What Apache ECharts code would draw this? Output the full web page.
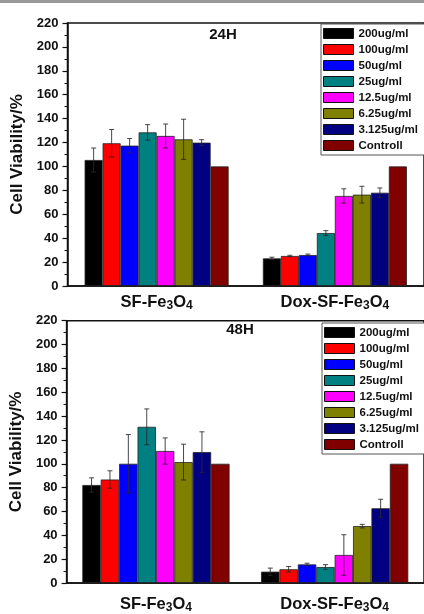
<!DOCTYPE html>
<html><head><meta charset="utf-8">
<script src="https://cdn.jsdelivr.net/npm/echarts@6/dist/echarts.min.js"></script>
<style>html,body{margin:0;padding:0;background:#fff}#c{width:424px;height:614px}</style>
</head><body><div id="c"></div>
<script>
// ---------- data ----------
const categories = ['SF-Fe3O4', 'Dox-SF-Fe3O4'];
const concentrations = ['200ug/ml', '100ug/ml', '50ug/ml', '25ug/ml', '12.5ug/ml', '6.25ug/ml', '3.125ug/ml', 'Controll'];
const panelTitles = ['24H', '48H'];
const yMin = 0, yMax = 220, yStep = 20;

// 24H panel (values per concentration, in legend order)
const h24_sf      = [105.4, 119.4, 117.4, 128.5, 125.5, 122.7, 119.9, 100];
const h24_sf_err  = [10, 11.5, 6, 6.5, 10, 16.8, 2.5, 0];
const h24_dox     = [23.1, 25.1, 25.9, 44.3, 75.3, 76.4, 78, 100];
const h24_dox_err = [1, 0.6, 0.8, 2, 6, 7, 4, 0];

// 48H panel
const h48_sf      = [82.2, 86.8, 100, 131, 110.7, 101.4, 109.8, 100];
const h48_sf_err  = [6, 7.3, 24.5, 15, 11, 15, 17, 0];
const h48_dox     = [9.5, 11.5, 15.6, 13.4, 23.5, 47.7, 62.7, 100];
const h48_dox_err = [3, 2.3, 1, 2, 17, 1.5, 7.5, 0];

// ---------- styling ----------
const colors = ['#000000', '#ff0000', '#0000ff', '#008080', '#ff00ff', '#808000', '#000080', '#800000'];
const FONT = '"Liberation Sans", Arial, sans-serif';
const panels = [
  { sf: h24_sf, sfErr: h24_sf_err, dox: h24_dox, doxErr: h24_dox_err,
    grid: { left: 67.5, top: 23, width: 362, height: 263 }, barW: 18, labelMargin: 6,
    legend: { left: 321, top: 24 }, title: { x: 223, y: 35 } },
  { sf: h48_sf, sfErr: h48_sf_err, dox: h48_dox, doxErr: h48_dox_err,
    grid: { left: 63.4, top: 320.7, width: 367.2, height: 267.6 }, barW: 18.4, labelMargin: 11,
    legend: { left: 322, top: 323 }, title: { x: 240, y: 330 } }
];

function subLabel(v) {
  return '{n|' + v.replace(/(\d)/g, '}{s|$1}{n|') + '}';
}

const grids = [], xAxes = [], yAxes = [], series = [], legends = [], graphics = [];
graphics.push({ type: 'rect', left: 0, top: 0, shape: { width: 424, height: 3 }, style: { fill: '#9a9a9a' }, silent: true });

panels.forEach((p, pi) => {
  grids.push(Object.assign({ show: true, borderColor: '#111', borderWidth: 1.5, backgroundColor: 'transparent' }, p.grid));
  xAxes.push({
    type: 'category', gridIndex: pi, data: categories,
    axisLine: { lineStyle: { color: '#111', width: 1.5 } },
    axisTick: { show: false },
    axisLabel: {
      interval: 0, hideOverlap: false,
      margin: p.labelMargin, formatter: subLabel, color: '#111',
      rich: {
        n: { fontSize: 16.5, fontWeight: 'bold', fontFamily: FONT, color: '#111' },
        s: { fontSize: 12, fontWeight: 'bold', fontFamily: FONT, color: '#111', padding: [8, 0, 0, 0] }
      }
    }
  });
  yAxes.push({
    type: 'value', gridIndex: pi, min: yMin, max: yMax, interval: yStep,
    name: 'Cell Viability/%', nameLocation: 'middle', nameGap: 38,
    nameTextStyle: { fontSize: 17, fontWeight: 'bold', fontFamily: FONT, color: '#111' },
    axisLine: { show: true, lineStyle: { color: '#111', width: 1.5 } },
    axisTick: { show: true, length: 5, lineStyle: { color: '#111', width: 1.2 } },
    minorTick: { show: true, splitNumber: 2, length: 3, lineStyle: { color: '#111', width: 1 } },
    splitLine: { show: false },
    axisLabel: { margin: 9, fontSize: 13, fontWeight: 'bold', fontFamily: FONT, color: '#111' }
  });
  concentrations.forEach((name, i) => {
    series.push({
      type: 'bar', name, xAxisIndex: pi, yAxisIndex: pi,
      data: [p.sf[i], p.dox[i]],
      barWidth: p.barW, barGap: '0%',
      itemStyle: { color: colors[i], borderColor: '#222', borderWidth: 0.8 },
      emphasis: { disabled: true }, animation: false
    });
  });
  concentrations.forEach((name, i) => {
    const off = (i - 3.5) * p.barW;
    series.push({
      type: 'custom', xAxisIndex: pi, yAxisIndex: pi, z: 5, silent: true, animation: false,
      data: [[0, p.sf[i], p.sfErr[i]], [1, p.dox[i], p.doxErr[i]]],
      encode: { x: 0, y: 1 },
      renderItem: function (params, api) {
        const c = api.value(0), v = api.value(1), e = api.value(2);
        if (!e) return null;
        const hi = api.coord([c, v + e]), lo = api.coord([c, v - e]);
        const x = hi[0] + off;
        const st = { stroke: 'rgba(40,40,40,0.85)', lineWidth: 1 };
        return { type: 'group', children: [
          { type: 'line', shape: { x1: x, y1: hi[1], x2: x, y2: lo[1] }, style: st },
          { type: 'line', shape: { x1: x - 2.5, y1: hi[1], x2: x + 2.5, y2: hi[1] }, style: st },
          { type: 'line', shape: { x1: x - 2.5, y1: lo[1], x2: x + 2.5, y2: lo[1] }, style: st }
        ]};
      }
    });
  });
  legends.push({
    data: concentrations, orient: 'vertical', left: p.legend.left, top: p.legend.top,
    icon: 'rect', itemWidth: 30, itemHeight: 10, itemGap: 4, selectedMode: false,
    padding: [3.5, 30, 3.5, 2],
    backgroundColor: '#fff', borderColor: '#555', borderWidth: 1,
    itemStyle: { borderColor: '#111', borderWidth: 1 },
    textStyle: { fontSize: 11.5, fontWeight: 'bold', fontFamily: FONT, color: '#111', lineHeight: 12 }
  });
  graphics.push({ type: 'text', x: p.title.x, y: p.title.y,
    style: { text: panelTitles[pi], fontSize: 15, fontWeight: 'bold', fontFamily: FONT, fill: '#111', align: 'center', verticalAlign: 'middle' } });
});

const chart = echarts.init(document.getElementById('c'), null, { renderer: 'canvas' });
chart.setOption({
  animation: false,
  grid: grids, xAxis: xAxes, yAxis: yAxes, series, legend: legends, graphic: graphics
});
</script>
</body></html>
